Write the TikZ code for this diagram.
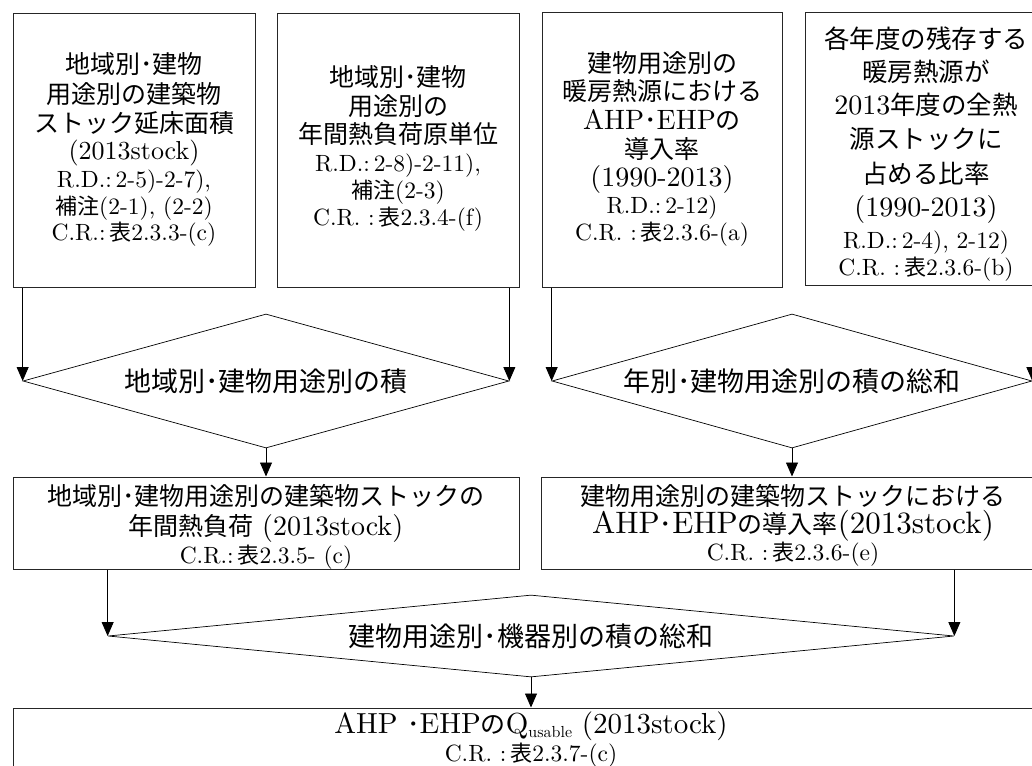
\documentclass[tikz,border=0pt]{standalone}
\usepackage{fontspec}
\setmainfont{lmroman10-regular.otf}
\newfontfamily\jpf{Noto Sans CJK JP}
\usetikzlibrary{shapes.geometric,arrows.meta}
\newcommand\J[1]{{\jpf #1}}
\newcommand\sJ[1]{{\jpf\fontsize{22}{27}\selectfont #1}}
\newcommand\sml{\fontsize{23.5}{27}\selectfont}
\newcommand\lbg{\fontsize{29}{29}\selectfont}
\newcommand\lbx{\fontsize{31}{29}\selectfont}
\newcommand\lmd{\fontsize{28}{29}\selectfont}
\begin{document}
\begin{tikzpicture}[x=1pt,y=-1pt,
  box/.style={draw=black!85, line width=1pt, inner sep=0pt},
  txt/.style={align=center, inner sep=0pt, font=\fontsize{25}{30}\selectfont},
  dia/.style={draw, line width=0.7pt, shape=diamond, inner sep=0pt, font=\fontsize{27}{30}\selectfont},
  arr/.style={line width=0.8pt, -{Triangle[length=14pt,width=12pt]}}]
\useasboundingbox (0,0) rectangle (1032,765);
% top boxes
\node[box, minimum width=242, minimum height=273] (b1) at (134,150.5) {};
\node[box, minimum width=242, minimum height=273] (b2) at (398,150.5) {};
\node[box, minimum width=240, minimum height=274] (b3) at (662,150) {};
\node[box, minimum width=242, minimum height=272] (b4) at (926,149) {};
\node[txt] (t1) at (134,149) {\J{地域別･建物}\\\J{用途別の建築物}\\[-1pt]\J{ストック延床面積}\\[-3pt]{\fontsize{26}{30}\selectfont (2013stock)}\\[-2pt]{\sml R.D.:\,2-5)-2-7),}\\[-3pt]{\sml \sJ{補注}(2-1), (2-2)}\\[-4pt]{\sml C.R.:\,\sJ{表}2.3.3-(c)}};
\node[txt] (t2) at (398,148) {\J{地域別･建物}\\[-1pt]\J{用途別の}\\[-2pt]\J{年間熱負荷原単位}\\[-2pt]{\sml R.D.:\,2-8)-2-11),}\\[-3pt]{\sml \sJ{補注}(2-3)}\\[-3pt]{\sml C.R. :\,\sJ{表}2.3.4-(f)}};
\node[txt] (t3) at (662,149) {\J{建物用途別の}\\[-2pt]\J{暖房熱源における}\\[-1pt]{\lmd AHP}\J{･}{\lmd EHP}\J{の}\\[-1pt]\J{導入率}\\[-2pt]{\lmd (1990-2013)}\\[-3pt]{\sml R.D.:\,2-12)}\\[-3pt]{\sml C.R. :\,\sJ{表}2.3.6-(a)}};
\node[txt, font=\fontsize{25.5}{34}\selectfont] (t4) at (926,154) {\J{各年度の残存する}\\[-1pt]\J{暖房熱源が}\\[-1pt]{\lmd 2013}\J{年度の全熱}\\\J{源ストックに}\\[1pt]\J{占める比率}\\[-1pt]{\lmd (1990-2013)}\\[-2pt]{\sml R.D.:\,2-4), 2-12)}\\[-7pt]{\sml C.R. :\,\sJ{表}2.3.6-(b)}};
% diamonds row 1
\node[dia, aspect=3.6, minimum width=486, minimum height=134] (d1) at (266,381) {\J{地域別･建物用途別の積}};
\node[dia, aspect=3.6, minimum width=480, minimum height=134] (d2) at (792,381) {\J{年別･建物用途別の積の総和}};
% middle boxes
\node[box, minimum width=506, minimum height=92] (b5) at (266,523) {};
\node[box, minimum width=504, minimum height=92] (b6) at (793,523) {};
\node[txt] (t5) at (266,527) {\J{地域別･建物用途別の建築物ストックの}\\\J{年間熱負荷} {\lmd (2013stock)}\\[-2pt]{\sml C.R.:\,\sJ{表}2.3.5- (c)}};
\node[txt] (t6) at (793,525) {\J{建物用途別の建築物ストックにおける}\\[-2pt]{\lbx AHP}\J{･}{\lbx EHP}\J{の導入率}{\lbx (2013stock)}\hspace*{24pt}\\[-3pt]{\sml C.R. :\,\sJ{表}2.3.6-(e)}};
% diamond row 2
\node[dia, aspect=10, minimum width=846, minimum height=82] (d3) at (531,636) {\J{建物用途別･機器別の積の総和}};
% bottom box
\node[box, minimum width=1036, minimum height=92] (b7) at (531,754) {};
\node[txt] (t7) at (531,740) {{\lbg AHP }\J{･}{\lbg EHP}\J{の}{\lbg Q}\raisebox{-4pt}{\fontsize{16}{16}\selectfont usable}{\lbg{} (2013stock)}\\[-2pt]{\sml C.R. :\,\sJ{表}2.3.7-(c)}};
% connectors
\draw[arr] (b1.south -| d1.west) -- (d1.west);
\draw[arr] (b2.south -| d1.east) -- (d1.east);
\draw[arr] (d1.south) -- (d1.south |- b5.north);
\draw[arr] (b3.south -| d2.west) -- (d2.west);
\draw[arr] (b4.south -| d2.east) -- (d2.east);
\draw[arr] (d2.south) -- (d2.south |- b6.north);
\draw[arr] (b5.south -| d3.west) -- (d3.west);
\draw[arr] (b6.south -| d3.east) -- (d3.east);
\draw[arr] (d3.south) -- (d3.south |- b7.north);
\end{tikzpicture}
\end{document}
